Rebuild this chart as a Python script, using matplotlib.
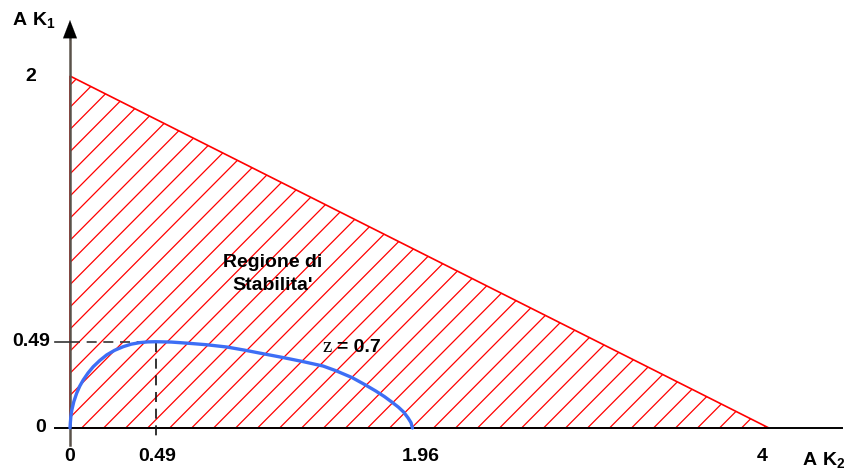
import numpy as np
import matplotlib
matplotlib.use("Agg")
import matplotlib.pyplot as plt
from matplotlib.patches import Polygon
from matplotlib.collections import LineCollection

plt.rcParams['mathtext.fontset'] = 'custom'
plt.rcParams['mathtext.bf'] = 'Liberation Sans:bold'
plt.rcParams['mathtext.rm'] = 'Liberation Sans:bold'

# stability triangle vertices (AK2, AK1)
tri_x = [0, 0, 4]
tri_y = [0, 2, 0]

# constant damping locus z = 0.7
curve_x = [0.0, 0.002, 0.005, 0.01, 0.022, 0.038, 0.056, 0.076, 0.103, 0.133,
           0.17, 0.21, 0.255, 0.305, 0.35, 0.40, 0.445, 0.49, 0.58, 0.668,
           0.78, 0.897, 1.0, 1.088, 1.22, 1.334, 1.448, 1.52, 1.615, 1.69,
           1.75, 1.80, 1.845, 1.88, 1.91, 1.935, 1.952, 1.96]
curve_y = [0.0, 0.03, 0.065, 0.1, 0.15, 0.197, 0.238, 0.273, 0.312, 0.348,
           0.383, 0.415, 0.441, 0.462, 0.476, 0.485, 0.489, 0.49, 0.488, 0.482,
           0.473, 0.46, 0.442, 0.425, 0.40, 0.377, 0.352, 0.326, 0.286, 0.245,
           0.21, 0.178, 0.145, 0.118, 0.09, 0.057, 0.03, 0.0]

peak = 0.49
xticks = [0, 0.49, 1.96, 4]
xlabels = ['0', '0.49', '1.96', '4']
yticks = [0, 0.49, 2]
ylabels = ['0', '0.49', '2']

fig = plt.figure(figsize=(8.49, 4.70), dpi=100)
ax = fig.add_axes([0, 0, 1, 1])
ax.set_xlim(-0.4007, 4.459)
ax.set_ylim(-0.239, 2.432)
ax.axis('off')

# hatched region
tri = Polygon(list(zip(tri_x, tri_y)), closed=True, facecolor='none',
              edgecolor='#ff0000', lw=1.2)
ax.add_patch(tri)
step = 0.1259
offsets = np.arange(0.067 - 20 * step, 4.2, step)
segs = [[(o, 0), (o + 2.5, 2.5)] for o in offsets]
hatch = LineCollection(segs, colors='#ff0000', linewidths=0.9)
ax.add_collection(hatch)
hatch.set_clip_path(tri)

# axes with arrows
ax.plot([0, 0], [-0.097, 2.25], color='#5a524a', lw=1.8, zorder=3)
ax.plot([-0.086, 4.42], [0, 0], color='black', lw=1.4, zorder=3)
ax.annotate('', xy=(0, 2.318), xytext=(0, 2.2),
            arrowprops=dict(arrowstyle='-|>,head_length=1.3,head_width=0.5',
                            color='black', lw=0.1, shrinkA=0, shrinkB=0,
                            mutation_scale=10), zorder=4)
ax.annotate('', xy=(4.499, 0), xytext=(4.35, 0),
            arrowprops=dict(arrowstyle='-|>,head_length=1.3,head_width=0.5',
                            color='black', lw=0.1, shrinkA=0, shrinkB=0,
                            mutation_scale=10), zorder=4)

# dashed guides at the peak
ax.plot([-0.086, 0], [peak, peak], color='#333333', lw=1.2, zorder=3)
ax.plot([0, peak], [peak, peak], color='#333333', lw=1.2, ls=(0, (6, 4)), zorder=3)
ax.plot([peak, peak], [peak, -0.078], color='#111111', lw=1.2, ls=(0, (6, 4)), zorder=3)

# curve
ax.plot(curve_x, curve_y, color='#3d6ef5', lw=2.4, zorder=5,
        solid_capstyle='round', solid_joinstyle='round')

# tick labels
font = dict(family='Liberation Sans', fontweight='bold', fontsize=14)
xl_pos = [0, 0.497, 2.005, 3.96]
for xp, lab in zip(xl_pos, xlabels):
    ax.text(xp, -0.163, lab, ha='center', va='center', **font)
yl_pos = [(-0.17, 0), (-0.225, 0.49), (-0.225, 2)]
for (xp, yp), lab in zip(yl_pos, ylabels):
    ax.text(xp, yp, lab, ha='center', va='center', **font)

ax.text(-0.33, 2.32, r'$\mathbf{A\ K_1}$', ha='left', va='center', fontsize=14)
ax.text(4.19, -0.18, r'$\mathbf{A\ K_2}$', ha='left', va='center', fontsize=14)

ax.text(1.162, 0.875, "Regione di\nStabilita'", ha='center', va='center',
        linespacing=1.4, **font)
ax.text(1.448, 0.455, 'z', ha='left', va='center', family='Liberation Serif',
        fontsize=15)
ax.text(1.53, 0.455, '= 0.7', ha='left', va='center', **font)

fig.savefig('out.png', dpi=100)
